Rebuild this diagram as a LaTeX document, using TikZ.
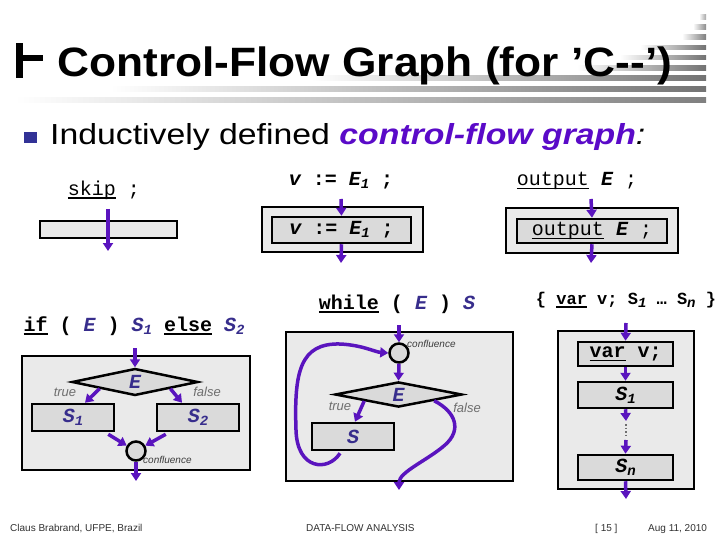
\documentclass[tikz,border=0pt]{standalone}
\usepackage{fontspec}
\usepackage{graphicx}
\setmainfont{Liberation Sans}
\newfontfamily\mono{Liberation Mono}
\usetikzlibrary{arrows.meta,shapes.geometric,calc}
\definecolor{arr}{RGB}{90,20,190}
\definecolor{navy}{RGB}{55,45,140}
\definecolor{boxout}{RGB}{234,234,234}
\definecolor{boxin}{RGB}{218,218,218}
\definecolor{cfg}{RGB}{90,10,200}
\definecolor{bullet}{RGB}{50,50,150}
\definecolor{tfgray}{RGB}{110,110,110}
\definecolor{cfgray}{RGB}{60,60,60}
\definecolor{footgray}{RGB}{50,50,50}
\newcommand{\codefont}{\mono\fontsize{20}{24}\selectfont}
\newcommand{\myvar}[1]{{\bfseries\itshape #1}}
\newcommand{\navyv}[1]{{\color{navy}\bfseries\itshape #1}}
\newcommand{\mysub}[1]{\raisebox{-0.3ex}{\fontsize{14}{14}\selectfont\bfseries\itshape #1}}
\newcommand{\myul}[1]{\setbox0\hbox{#1}\rlap{\raisebox{-3.5pt}{\rule{\wd0}{1.4pt}}}\box0\relax}
\begin{document}
\begin{tikzpicture}[x=1pt,y=-1pt,
 flow/.style={draw=arr, line width=3.5pt, -{Triangle[width=10pt,length=8pt]}},
 outerbox/.style={draw=black, line width=2.5pt, fill=boxout, inner sep=0pt},
 innerbox/.style={draw=black, line width=2.5pt, fill=boxin, inner sep=0pt, font=\codefont},
 code/.style={font=\codefont, inner sep=0pt},
 cond/.style={diamond, draw=black, line width=2.5pt, fill=boxin, inner sep=0pt, font=\codefont},
 conf/.style={circle, draw=black, line width=2.5pt, fill=boxin, minimum size=19pt, inner sep=0pt},
 tf/.style={font=\fontsize{13}{15}\selectfont\itshape, text=tfgray, inner sep=0pt},
 conflabel/.style={font=\fontsize{10}{12}\selectfont\itshape, text=cfgray, inner sep=0pt, anchor=west},
 foot/.style={font=\fontsize{10}{12}\selectfont, text=footgray, inner sep=0pt, anchor=base west},
]
\useasboundingbox (0,0) rectangle (720,540);
\fill[white] (0,0) rectangle (720,540);

% decorative bars
\foreach \yy/\xs/\c in {17/699/35, 27/693/45, 37/682/50, 47.5/640/55, 57.5/620/55, 68/577/55, 78/311/55, 89/110/55, 100/15/50}
  \shade[left color=white, right color=black!\c] (\xs,\yy-2.25) rectangle (706,\yy+2.25);

% title
\fill (16,43) rectangle (22.5,78);
\fill (22.5,55) rectangle (43,61.5);
\node[anchor=base west, inner sep=0pt, font=\fontsize{41}{48}\selectfont\bfseries] (title) at (57,77)
  {\scalebox{1.08}[1]{Control-Flow Graph (for ’C-\kern0pt-’)}};

% subtitle
\fill[bullet] (24,132) rectangle (37,143);
\node[anchor=base west, inner sep=0pt, font=\fontsize{29}{34}\selectfont] (subtitle) at (50,145)
  {\scalebox{1.165}[1]{Inductively defined {\color{cfg}\bfseries\itshape control-flow graph}{\itshape :}}};

% skip
\node[code] (sklabel) at (104,190) {\myul{skip} ;};
\node[draw=black, line width=2.5pt, fill=boxout, inner sep=0pt, minimum width=137pt, minimum height=17pt] (skbox) at (108.5,229.5) {};
\coordinate (skin) at (108,209);
\coordinate (skout) at (108,251);
\draw[flow] (skin) -- (skout);

% assignment
\node[code, font=\codefont\bfseries] (alabel) at (341,181) {\myvar{v} := \myvar{E}\mysub{1} ;};
\node[outerbox, minimum width=161pt, minimum height=45pt] (aout) at (342.5,229.5) {};
\node[innerbox, minimum width=139pt, minimum height=26pt] (ain) at (341.5,230) {\bfseries\myvar{v} := \myvar{E}\mysub{1} ;};
\coordinate (aaa) at (341,199);
\coordinate (aab) at (341,263);
\draw[flow] (aaa) -- (ain.north);
\draw[flow] (ain.south) -- (aab);

% output
\node[code] (olabel) at (577,181) {\myul{output} \myvar{E} ;};
\node[outerbox, minimum width=172pt, minimum height=45pt] (oout) at (592,230.5) {};
\node[innerbox, minimum width=150pt, minimum height=24pt] (oin) at (592,231) {\myul{output} \myvar{E} ;};
\coordinate (ooa) at (591,199);
\coordinate (oob) at (591,263);
\draw[flow] (ooa) -- (oin.north);
\draw[flow] (oin.south) -- (oob);

% if
\node[code, font=\codefont\bfseries] (iflabel) at (134,326) {\myul{if} ( \navyv{E} ) \navyv{S\mysub{1}} \myul{else} \navyv{S\mysub{2}}};
\node[outerbox, minimum width=228pt, minimum height=114pt] (ifbox) at (136,413) {};
\node[cond, minimum width=126pt, minimum height=27pt] (ifd) at (135,382) {\navyv{E}};
\node[innerbox, minimum width=82pt, minimum height=27pt] (ifs1) at (73,417.5) {\navyv{S\mysub{1}}};
\node[innerbox, minimum width=82pt, minimum height=27pt] (ifs2) at (198,417.5) {\navyv{S\mysub{2}}};
\node[conf] (ifc) at (136,451) {};
\node[tf] (iftrue) at (65,392) {true};
\node[tf] (iffalse) at (207,392) {false};
\node[conflabel] (ifcl) at (143,460) {confluence};
\coordinate (ifin) at (135,348);
\coordinate (ifout) at (136,481);
\draw[flow] (ifin) -- (ifd.north);
\draw[flow] ($(ifd.west)!0.45!(ifd.south)$) -- ($(ifs1.north)+(12,0)$);
\draw[flow] ($(ifd.east)!0.45!(ifd.south)$) -- ($(ifs2.north)+(-16,0)$);
\draw[flow] ($(ifs1.south east)+(-7,2)$) -- (ifc.150);
\draw[flow] ($(ifs2.south west)+(10,2)$) -- (ifc.30);
\draw[flow] (ifc.south) -- (ifout);

% while
\node[code, font=\codefont\bfseries] (wlabel) at (397,304) {\myul{while} ( \navyv{E} ) \navyv{S}};
\node[outerbox, minimum width=227pt, minimum height=149pt] (wbox) at (399.5,406.5) {};
\node[conf] (wc) at (399,353) {};
\node[cond, minimum width=127pt, minimum height=25pt] (wd) at (398.5,394.5) {\navyv{E}};
\node[innerbox, minimum width=82pt, minimum height=27pt] (ws) at (353,436.5) {\navyv{S}};
\node[tf] (wtrue) at (340,406) {true};
\node[tf] (wfalse) at (467,408) {false};
\node[conflabel] (wcl) at (407,344) {confluence};
\coordinate (win) at (399,325);
\coordinate (wout) at (399,490);
\draw[flow] (win) -- (wc.north);
\draw[flow] (wc.south) -- (wd.north);
\draw[flow] ($(wd.west)!0.47!(wd.south)$) -- ($(ws.north)+(2,0)$);
\draw[flow] ($(ws.south)+(-13,2)$) .. controls (328,472) and (297,470) .. (296,430)
  .. controls (294,372) and (300,343) .. (340,344)
  .. controls (362,345) and (375,352) .. (wc.west);
\draw[flow] ($(wd.east)!0.45!(wd.south)$) .. controls (456,412) and (462,430) .. (445,445)
  .. controls (428,460) and (399,472) .. (wout);

% block
\node[code, font=\mono\fontsize{17}{21}\selectfont\bfseries] (blabel) at (626,300) {\{ \myul{var} v; S\mysub{1} … S\mysub{n} \}};
\node[outerbox, minimum width=136pt, minimum height=158pt] (bbox) at (626,410) {};
\node[innerbox, minimum width=95pt, minimum height=24pt] (bvar) at (625.5,354) {\bfseries\myul{var} v;};
\node[innerbox, minimum width=95pt, minimum height=26pt] (bs1) at (625.5,395) {\myvar{S}\mysub{1}};
\node[innerbox, minimum width=95pt, minimum height=25pt] (bsn) at (625.5,467.5) {\myvar{S}\mysub{n}};
\coordinate (bin) at (626,323);
\coordinate (bm1) at (626,421);
\coordinate (bd1) at (626,424);
\coordinate (bd2) at (626,438);
\coordinate (bm2) at (626,440);
\coordinate (bout) at (626,499);
\draw[flow] (bin) -- (bvar.north);
\draw[flow] (bvar.south) -- (bs1.north);
\draw[flow] (bs1.south) -- (bm1);
\draw[dotted, line width=1.5pt, tfgray] (bd1) -- (bd2);
\draw[flow] (bm2) -- (bsn.north);
\draw[flow] (bsn.south) -- (bout);

% footer
\node[foot] (f1) at (10,531) {Claus Brabrand, UFPE, Brazil};
\node[foot] (f2) at (306,531) {DATA-FLOW ANALYSIS};
\node[foot] (f3) at (595,531) {[ 15 ]};
\node[foot] (f4) at (648,531) {Aug 11, 2010};
\end{tikzpicture}
\end{document}
